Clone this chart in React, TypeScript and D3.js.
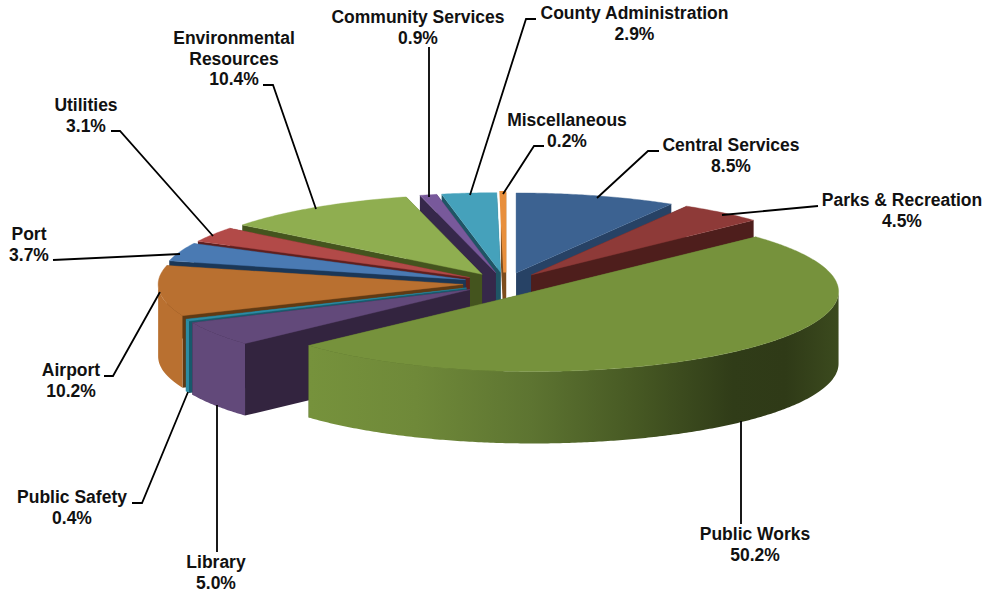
import React from "react";
import * as d3 from "d3";

// County budget shares, clockwise from twelve o'clock.
const departments = [
  "Central Services", "Parks & Recreation", "Public Works", "Library", "Public Safety", "Airport",
  "Port", "Utilities", "Environmental Resources", "Community Services", "County Administration", "Miscellaneous",
];
const shares = [8.5, 4.5, 50.2, 5.0, 0.4, 10.2, 3.7, 3.1, 10.4, 0.9, 2.9, 0.2];

const topColors = ["#3c6291", "#8e3a38", "#76923c", "#62497a", "#2c8ca4", "#b97030", "#4a7ab3", "#b24a48", "#8fae50", "#78599b", "#45a1bb", "#e88f3c"];
const cutColors = ["#274265", "#4e1e1c", "#4a5c26", "#33243f", "#175a6b", "#5f3a14", "#1b3757", "#5e1f1e", "#44541e", "#36284a", "#1f5565", "#7d4c1c"];
const rimColors = ["#274265", "#4e1e1c", "url(#worksRim)", "#62497a", "#2c8ca4", "#b97030", "#4a7ab3", "#b24a48", "#8fae50", "#78599b", "#45a1bb", "#e88f3c"];

// Painter's order: slices at the back first, Public Works last.
const paintOrder = [11, 10, 9, 8, 7, 6, 5, 4, 3, 0, 1, 2];

const rimStops: [number, string][] = [
  [0, "#76923c"], [0.2, "#6f8939"], [0.42, "#5d7431"], [0.62, "#465823"],
  [0.8, "#303c18"], [0.9, "#2f3a17"], [1, "#3b4a1e"],
];

// Data labels: text lines, centre x, first baseline.
const labelLines = [
  ["Central Services", "8.5%"], ["Parks & Recreation", "4.5%"], ["Public Works", "50.2%"], ["Library", "5.0%"],
  ["Public Safety", "0.4%"], ["Airport", "10.2%"], ["Port", "3.7%"], ["Utilities", "3.1%"],
  ["Environmental", "Resources", "10.4%"], ["Community Services", "0.9%"], ["County Administration", "2.9%"], ["Miscellaneous", "0.2%"],
];
const labelAnchors: [number, number][] = [
  [731, 151], [902, 206], [755, 540], [216, 568], [72, 503], [71, 376],
  [29, 240], [86, 111], [234, 44], [418, 23], [634.5, 19], [567, 126],
];
const leaders: [number, number][][] = [
  [[659, 151], [648, 151], [597, 198]],
  [[818, 206], [722, 215]],
  [[741, 421], [741, 524]],
  [[217, 405], [217, 552]],
  [[132, 503], [142, 503], [188, 392]],
  [[104, 376], [113, 376], [160, 292]],
  [[53, 260], [180, 254]],
  [[111, 131], [120, 131], [213, 236]],
  [[263, 85], [273, 85], [316, 209]],
  [[429, 47], [429, 197]],
  [[536, 19], [526, 19], [470, 195]],
  [[544, 146], [534, 146], [503, 194]],
];

const width = 985;
const height = 592;
const centerX = 505;
const centerY = 283.5;
const radius = 305;
const tilt = 0.262;
const explode = 42;
const depth = 72;

const pieAngles = d3.pie<number>().sort(null).startAngle(0).endAngle(2 * Math.PI)(shares);
const toPath = d3.line<[number, number]>().x((p) => p[0]).y((p) => p[1]);

function arcPoints(cx: number, cy: number, a0: number, a1: number, drop = 0): [number, number][] {
  const steps = Math.max(2, Math.ceil((a1 - a0) / 0.01));
  return d3.range(steps + 1).map((i) => {
    const a = a0 + ((a1 - a0) * i) / steps;
    return [cx + radius * Math.sin(a), cy - radius * tilt * Math.cos(a) + drop] as [number, number];
  });
}

function Slice({ index }: { index: number }) {
  const { startAngle: a0, endAngle: a1 } = pieAngles[index];
  const mid = (a0 + a1) / 2;
  const cx = centerX + explode * Math.sin(mid);
  const cy = centerY - explode * tilt * Math.cos(mid);
  const edge = arcPoints(cx, cy, a0, a1);
  const top = toPath([[cx, cy], ...edge])! + "Z";
  const cut = (a: number) => {
    const [p] = arcPoints(cx, cy, a, a);
    return toPath([[cx, cy], p, [p[0], p[1] + depth], [cx, cy + depth]])! + "Z";
  };
  const frontStart = Math.max(a0, Math.PI / 2);
  const frontEnd = Math.min(a1, (3 * Math.PI) / 2);
  const rim =
    frontEnd > frontStart
      ? toPath([...arcPoints(cx, cy, frontStart, frontEnd), ...arcPoints(cx, cy, frontStart, frontEnd, depth).reverse()])! + "Z"
      : null;
  // The thinnest slice gets a wider outline so it stays visible.
  const isSliver = shares[index] < 0.3;
  return (
    <g>
      <path d={cut(a1)} fill={cutColors[index]} stroke={isSliver ? cutColors[index] : "none"} strokeWidth={isSliver ? 3 : 0} />
      <path d={cut(a0)} fill={cutColors[index]} />
      {rim && <path d={rim} fill={rimColors[index]} />}
      <path d={top} fill={topColors[index]} stroke={topColors[index]} strokeWidth={isSliver ? 3 : 0.4} />
    </g>
  );
}

export default function App() {
  return (
    <svg width={width} height={height} style={{ position: "absolute", left: 0, top: 0, background: "#fff" }}>
      <defs>
        <linearGradient id="worksRim" gradientUnits="userSpaceOnUse" x1={310} x2={838} y1={0} y2={0}>
          {rimStops.map(([o, c]) => (
            <stop key={o} offset={o} stopColor={c} />
          ))}
        </linearGradient>
      </defs>
      {paintOrder.map((i) => (
        <Slice key={i} index={i} />
      ))}
      {leaders.map((pts, i) => (
        <path key={i} d={toPath(pts)!} fill="none" stroke="#000" strokeWidth={1.8} />
      ))}
      {labelLines.map((lines, i) => (
        <text key={i} textAnchor="middle" fontFamily="'Liberation Sans', Arial, sans-serif" fontWeight={700} fontSize={17.5} fill="#111">
          {lines.map((line, j) => (
            <tspan key={j} x={labelAnchors[i][0]} y={labelAnchors[i][1] + j * 20.5}>
              {line}
            </tspan>
          ))}
        </text>
      ))}
    </svg>
  );
}
